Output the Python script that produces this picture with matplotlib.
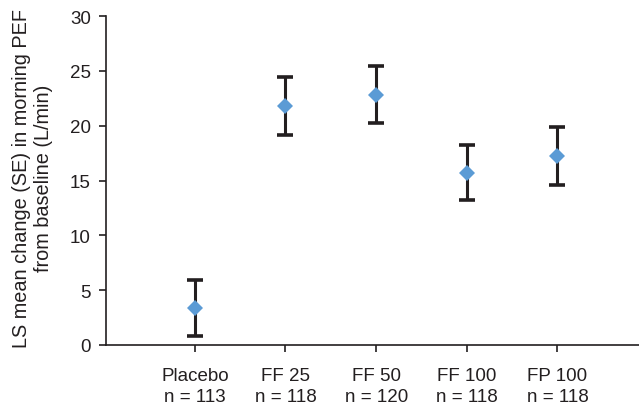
import matplotlib

matplotlib.use("Agg")
import matplotlib.pyplot as plt

groups = ["Placebo", "FF 25", "FF 50", "FF 100", "FP 100"]
n_patients = [113, 118, 120, 118, 118]
ls_mean = [3.4, 21.8, 22.8, 15.7, 17.2]
se = [2.55, 2.65, 2.6, 2.5, 2.65]

plt.rcParams["font.family"] = ["Liberation Sans", "DejaVu Sans"]

fig = plt.figure(figsize=(6.39, 4.06), dpi=100)
ax = fig.add_axes([106 / 639, 1 - 346 / 406, 1 - 106 / 639, 329 / 406])

x = list(range(1, len(groups) + 1))
ax.errorbar(x, ls_mean, yerr=se, fmt="none", ecolor="#231f20",
            elinewidth=2.2, capsize=6, capthick=2.6, zorder=2)
ax.plot(x, ls_mean, "D", color="#5b9bd5", markersize=8.5,
        markeredgewidth=0, zorder=3)

ax.set_xlim(0.02, 5.9)
ax.set_ylim(0, 30)
ax.set_yticks(range(0, 31, 5))
ax.set_xticks(x)
ax.set_xticklabels([f"{g}\nn = {n}" for g, n in zip(groups, n_patients)],
                   linespacing=1.3)

for side in ("top", "right"):
    ax.spines[side].set_visible(False)
for side in ("left", "bottom"):
    ax.spines[side].set_linewidth(1.2)
    ax.spines[side].set_color("#231f20")

ax.tick_params(axis="both", labelsize=13.5, colors="#231f20", width=1.2,
               length=5, labelcolor="#231f20")
ax.tick_params(axis="x", pad=11)
ax.tick_params(axis="y", pad=6)

ax.set_ylabel("LS mean change (SE) in morning PEF\nfrom baseline (L/min)",
              fontsize=14.3, color="#231f20", linespacing=1.15)
ax.yaxis.set_label_coords(-0.1, 0.51)

fig.savefig("out.png", dpi=100)
